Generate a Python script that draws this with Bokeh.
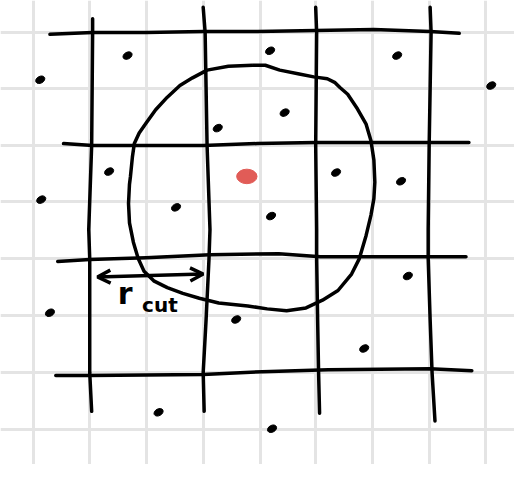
from bokeh.plotting import figure
from bokeh.models import Range1d, FixedTicker, Arrow, OpenHead
from bokeh.core.properties import value
from bokeh.embed import file_html
from bokeh.resources import INLINE

# graph-paper lines
paper_x = [34, 92, 151, 209, 268, 325, 384, 442, 500]
paper_y = [33, 91, 150, 208, 267, 326, 385, 444]

# hand-drawn cell boundaries
v1_x = [95, 95, 94, 91, 92, 92, 92, 94]
v1_y = [19, 33, 150, 237, 267, 330, 385, 425]
v2_x = [209, 211, 213, 216, 215, 212, 209, 210]
v2_y = [7, 33, 150, 237, 267, 330, 385, 425]
v3_x = [325, 326, 325, 326, 326, 327, 328, 329]
v3_y = [7, 33, 150, 237, 267, 330, 385, 427]
v4_x = [443, 444, 442, 441, 441, 443, 445, 448]
v4_y = [7, 33, 150, 237, 267, 330, 385, 435]

h1_x = [51, 95, 150, 209, 265, 325, 385, 443, 473]
h1_y = [35, 33, 33, 32, 32, 31, 30, 32, 34]
h2_x = [65, 95, 150, 209, 265, 325, 385, 443, 483]
h2_y = [148, 150, 150, 150, 148, 147, 147, 147, 147]
h3_x = [59, 92, 150, 216, 287, 330, 385, 443, 480]
h3_y = [270, 268, 266, 263, 262, 265, 265, 265, 265]
h4_x = [57, 92, 209, 270, 338, 443, 486]
h4_y = [388, 388, 387, 384, 382, 381, 383]

# cutoff "circle", traced clockwise from the top
circle_x = [260, 273, 288, 308, 323, 337, 345, 350, 358, 368, 377, 382, 385, 386,
            385, 382, 377, 370, 362, 348, 332, 315, 295, 275, 255, 245, 225, 205,
            188, 172, 158, 148, 142, 137, 133, 132, 133, 134, 136, 138, 143, 150,
            160, 172, 185, 198, 213, 235, 260]
circle_y = [67, 67, 72, 76, 79, 81, 85, 90, 97, 112, 128, 145, 165, 188,
            205, 222, 243, 267, 283, 300, 310, 318, 321, 319, 316, 315, 313, 308,
            303, 297, 290, 280, 267, 250, 230, 210, 190, 182, 162, 148, 137, 127,
            113, 100, 88, 80, 72, 68, 67]

# particles
dots_x = [131, 41, 224, 112, 42, 181, 278, 409, 506, 293, 346, 413, 279,
          420, 51, 243, 375, 163, 280]
dots_y = [57, 82, 132, 177, 206, 214, 52, 57, 88, 116, 178, 187, 223,
          285, 323, 330, 360, 426, 443]
center_x = [254]
center_y = [182]

arrow_x = [100, 209]
arrow_y = [286, 283]

p = figure(width=514, height=464, output_backend="svg", toolbar_location=None,
           x_range=Range1d(0, 530), y_range=Range1d(480, 0), min_border=0)
p.axis.visible = False
p.outline_line_color = None
p.background_fill_color = "white"
p.xgrid.ticker = FixedTicker(ticks=paper_x)
p.ygrid.ticker = FixedTicker(ticks=paper_y)
p.grid.grid_line_color = "#e4e4e4"
p.grid.grid_line_width = 3

for xs, ys in [(v1_x, v1_y), (v2_x, v2_y), (v3_x, v3_y), (v4_x, v4_y),
               (h1_x, h1_y), (h2_x, h2_y), (h3_x, h3_y), (h4_x, h4_y)]:
    p.line(xs, ys, line_color="black", line_width=3.5, line_cap="round", line_join="round")

p.line(circle_x, circle_y, line_color="black", line_width=3.5, line_join="round")

p.ellipse(dots_x, dots_y, width=10, height=7, angle=0.5, color="black")
p.ellipse(center_x, center_y, width=21, height=15, color="#e15c57")

p.add_layout(Arrow(start=OpenHead(size=13, line_width=3.5, line_color="black"),
                   end=OpenHead(size=13, line_width=3.5, line_color="black"),
                   x_start=arrow_x[0], y_start=arrow_y[0],
                   x_end=arrow_x[1], y_end=arrow_y[1],
                   line_width=3.5, line_color="black"))

p.text([121], [321], text=["r"], text_font=value("DejaVu Sans"), text_font_size="30px",
       text_font_style="bold", text_color="black")
p.text([146], [327], text=["cut"], text_font=value("DejaVu Sans"), text_font_size="20px",
       text_font_style="bold", text_color="black")

open("out.html", "w").write(file_html(p, INLINE))
